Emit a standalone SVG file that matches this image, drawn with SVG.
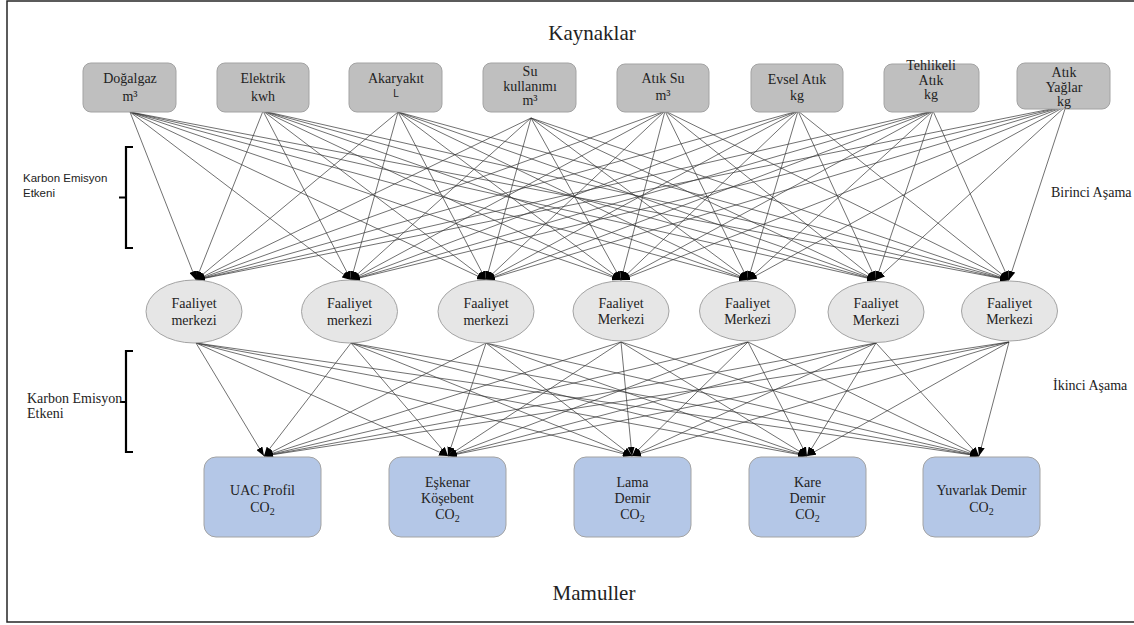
<svg xmlns="http://www.w3.org/2000/svg" width="1134" height="625" viewBox="0 0 1134 625">
<style>
.src{fill:#bfbfbf;stroke:#a3a3a3;stroke-width:1}
.act{fill:#e6e6e6;stroke:#a3a3a3;stroke-width:1}
.prd{fill:#b4c7e7;stroke:#a3a3a3;stroke-width:1}
.t{font-family:"Liberation Serif","Times New Roman",serif;font-size:14px;fill:#222;text-anchor:middle}
.ts{font-family:"Liberation Sans",Arial,sans-serif;fill:#222}
.big{font-family:"Liberation Serif","Times New Roman",serif;font-size:21px;fill:#222;text-anchor:middle}
.lab{font-family:"Liberation Serif","Times New Roman",serif;font-size:14px;fill:#222}
#edges line{stroke:#333;stroke-width:0.7;marker-end:url(#ah)}
.br{fill:none;stroke:#000;stroke-width:2.2}
</style>
<defs>
<marker id="ah" markerUnits="userSpaceOnUse" markerWidth="9" markerHeight="7" refX="9" refY="3.5" orient="auto">
<path d="M0,0 L9,3.5 L0,7 z" fill="#000"/>
</marker>
</defs>
<rect width="1134" height="625" fill="#fff"/>
<path d="M1140,1 H7 V622 H1140" fill="none" stroke="#262626" stroke-width="1.5"/>

<text class="big" x="592" y="40">Kaynaklar</text>
<text class="big" x="594" y="600">Mamuller</text>

<g id="edges">
<line x1="130" y1="112" x2="196" y2="280"/><line x1="130" y1="112" x2="351" y2="280"/><line x1="130" y1="112" x2="486" y2="280"/><line x1="130" y1="112" x2="621" y2="280"/><line x1="130" y1="112" x2="748" y2="280"/><line x1="130" y1="112" x2="876" y2="280"/><line x1="130" y1="112" x2="1009" y2="280"/>
<line x1="263" y1="111" x2="196" y2="280"/><line x1="263" y1="111" x2="351" y2="280"/><line x1="263" y1="111" x2="486" y2="280"/><line x1="263" y1="111" x2="621" y2="280"/><line x1="263" y1="111" x2="748" y2="280"/><line x1="263" y1="111" x2="876" y2="280"/><line x1="263" y1="111" x2="1009" y2="280"/>
<line x1="398" y1="112" x2="196" y2="280"/><line x1="398" y1="112" x2="351" y2="280"/><line x1="398" y1="112" x2="486" y2="280"/><line x1="398" y1="112" x2="621" y2="280"/><line x1="398" y1="112" x2="748" y2="280"/><line x1="398" y1="112" x2="876" y2="280"/><line x1="398" y1="112" x2="1009" y2="280"/>
<line x1="531" y1="118" x2="196" y2="280"/><line x1="531" y1="118" x2="351" y2="280"/><line x1="531" y1="118" x2="486" y2="280"/><line x1="531" y1="118" x2="621" y2="280"/><line x1="531" y1="118" x2="748" y2="280"/><line x1="531" y1="118" x2="876" y2="280"/><line x1="531" y1="118" x2="1009" y2="280"/>
<line x1="665" y1="111" x2="196" y2="280"/><line x1="665" y1="111" x2="351" y2="280"/><line x1="665" y1="111" x2="486" y2="280"/><line x1="665" y1="111" x2="621" y2="280"/><line x1="665" y1="111" x2="748" y2="280"/><line x1="665" y1="111" x2="876" y2="280"/><line x1="665" y1="111" x2="1009" y2="280"/>
<line x1="798" y1="111" x2="196" y2="280"/><line x1="798" y1="111" x2="351" y2="280"/><line x1="798" y1="111" x2="486" y2="280"/><line x1="798" y1="111" x2="621" y2="280"/><line x1="798" y1="111" x2="748" y2="280"/><line x1="798" y1="111" x2="876" y2="280"/><line x1="798" y1="111" x2="1009" y2="280"/>
<line x1="933" y1="111" x2="196" y2="280"/><line x1="933" y1="111" x2="351" y2="280"/><line x1="933" y1="111" x2="486" y2="280"/><line x1="933" y1="111" x2="621" y2="280"/><line x1="933" y1="111" x2="748" y2="280"/><line x1="933" y1="111" x2="876" y2="280"/><line x1="933" y1="111" x2="1009" y2="280"/>
<line x1="1066" y1="106" x2="196" y2="280"/><line x1="1066" y1="106" x2="351" y2="280"/><line x1="1066" y1="106" x2="486" y2="280"/><line x1="1066" y1="106" x2="621" y2="280"/><line x1="1066" y1="106" x2="748" y2="280"/><line x1="1066" y1="106" x2="876" y2="280"/><line x1="1066" y1="106" x2="1009" y2="280"/>

<line x1="196" y1="343" x2="264" y2="456"/><line x1="196" y1="343" x2="448" y2="456"/><line x1="196" y1="343" x2="632" y2="456"/><line x1="196" y1="343" x2="807" y2="456"/><line x1="196" y1="343" x2="979" y2="456"/>
<line x1="351" y1="343" x2="264" y2="456"/><line x1="351" y1="343" x2="448" y2="456"/><line x1="351" y1="343" x2="632" y2="456"/><line x1="351" y1="343" x2="807" y2="456"/><line x1="351" y1="343" x2="979" y2="456"/>
<line x1="486" y1="343" x2="264" y2="456"/><line x1="486" y1="343" x2="448" y2="456"/><line x1="486" y1="343" x2="632" y2="456"/><line x1="486" y1="343" x2="807" y2="456"/><line x1="486" y1="343" x2="979" y2="456"/>
<line x1="621" y1="342" x2="264" y2="456"/><line x1="621" y1="342" x2="448" y2="456"/><line x1="621" y1="342" x2="632" y2="456"/><line x1="621" y1="342" x2="807" y2="456"/><line x1="621" y1="342" x2="979" y2="456"/>
<line x1="748" y1="342" x2="264" y2="456"/><line x1="748" y1="342" x2="448" y2="456"/><line x1="748" y1="342" x2="632" y2="456"/><line x1="748" y1="342" x2="807" y2="456"/><line x1="748" y1="342" x2="979" y2="456"/>
<line x1="876" y1="343" x2="264" y2="456"/><line x1="876" y1="343" x2="448" y2="456"/><line x1="876" y1="343" x2="632" y2="456"/><line x1="876" y1="343" x2="807" y2="456"/><line x1="876" y1="343" x2="979" y2="456"/>
<line x1="1009" y1="342" x2="264" y2="456"/><line x1="1009" y1="342" x2="448" y2="456"/><line x1="1009" y1="342" x2="632" y2="456"/><line x1="1009" y1="342" x2="807" y2="456"/><line x1="1009" y1="342" x2="979" y2="456"/>
</g>

<g id="src-dogalgaz"><rect class="src" x="83" y="63" width="93" height="49" rx="8"/><text class="t" x="130" y="83">Doğalgaz</text><text class="t" x="130" y="101">m³</text></g>
<g id="src-elektrik"><rect class="src" x="217" y="63" width="92" height="49" rx="8"/><text class="t" x="263" y="83">Elektrik</text><text class="t" x="263" y="101">kwh</text></g>
<g id="src-akaryakit"><rect class="src" x="349" y="63" width="93" height="49" rx="8"/><text class="t" x="396" y="83">Akaryakıt</text><text class="ts" x="396" y="97" font-size="10" text-anchor="middle">L</text></g>
<g id="src-su"><rect class="src" x="483" y="63" width="93" height="49" rx="8"/><text class="t" x="530" y="76">Su</text><text class="t" x="530" y="91">kullanımı</text><text class="t" x="530" y="105">m³</text></g>
<g id="src-atiksu"><rect class="src" x="617" y="64" width="92" height="48" rx="8"/><text class="t" x="663" y="83">Atık Su</text><text class="t" x="663" y="100">m³</text></g>
<g id="src-evsel"><rect class="src" x="751" y="64" width="92" height="48" rx="8"/><text class="t" x="797" y="84">Evsel Atık</text><text class="t" x="797" y="100">kg</text></g>
<g id="src-tehlikeli"><rect class="src" x="884" y="64" width="95" height="48" rx="8"/><text class="t" x="931" y="70">Tehlikeli</text><text class="t" x="931" y="85">Atık</text><text class="t" x="931" y="99" font-size="11">kg</text></g>
<g id="src-yaglar"><rect class="src" x="1017" y="63" width="93" height="46" rx="8"/><text class="t" x="1064" y="77">Atık</text><text class="t" x="1064" y="92">Yağlar</text><text class="t" x="1064" y="106" font-size="11">kg</text></g>

<g id="act-1"><ellipse class="act" cx="194" cy="311.5" rx="48" ry="31.5"/><text class="t" x="194" y="308">Faaliyet</text><text class="t" x="194" y="325">merkezi</text></g>
<g id="act-2"><ellipse class="act" cx="349.5" cy="311.5" rx="48" ry="31.5"/><text class="t" x="349.5" y="308">Faaliyet</text><text class="t" x="349.5" y="325">merkezi</text></g>
<g id="act-3"><ellipse class="act" cx="486" cy="311.5" rx="48" ry="31.5"/><text class="t" x="486" y="308">Faaliyet</text><text class="t" x="486" y="325">merkezi</text></g>
<g id="act-4"><ellipse class="act" cx="621" cy="311" rx="48" ry="30"/><text class="t" x="621" y="308">Faaliyet</text><text class="t" x="621" y="324">Merkezi</text></g>
<g id="act-5"><ellipse class="act" cx="747.5" cy="311" rx="48" ry="30"/><text class="t" x="747.5" y="308">Faaliyet</text><text class="t" x="747.5" y="324">Merkezi</text></g>
<g id="act-6"><ellipse class="act" cx="876" cy="312" rx="48" ry="30.5"/><text class="t" x="876" y="308">Faaliyet</text><text class="t" x="876" y="325">Merkezi</text></g>
<g id="act-7"><ellipse class="act" cx="1009.5" cy="311" rx="48" ry="30"/><text class="t" x="1009.5" y="308">Faaliyet</text><text class="t" x="1009.5" y="324">Merkezi</text></g>

<g id="prd-uac"><rect class="prd" x="204" y="457" width="117" height="80" rx="12"/><text class="t" x="262.5" y="495">UAC Profil</text><text class="t" x="262.5" y="512">CO<tspan font-size="10" dy="3">2</tspan></text></g>
<g id="prd-eskenar"><rect class="prd" x="389" y="457" width="117" height="80" rx="12"/><text class="t" x="447.5" y="487">Eşkenar</text><text class="t" x="447.5" y="503">Köşebent</text><text class="t" x="447.5" y="519">CO<tspan font-size="10" dy="3">2</tspan></text></g>
<g id="prd-lama"><rect class="prd" x="574" y="457" width="117" height="80" rx="12"/><text class="t" x="632.5" y="487">Lama</text><text class="t" x="632.5" y="503">Demir</text><text class="t" x="632.5" y="519">CO<tspan font-size="10" dy="3">2</tspan></text></g>
<g id="prd-kare"><rect class="prd" x="749" y="457" width="117" height="80" rx="12"/><text class="t" x="807.5" y="487">Kare</text><text class="t" x="807.5" y="503">Demir</text><text class="t" x="807.5" y="519">CO<tspan font-size="10" dy="3">2</tspan></text></g>
<g id="prd-yuvarlak"><rect class="prd" x="923" y="457" width="117" height="80" rx="12"/><text class="t" x="981.5" y="495">Yuvarlak  Demir</text><text class="t" x="981.5" y="512">CO<tspan font-size="10" dy="3">2</tspan></text></g>

<g id="bracket-1"><path class="br" d="M133,147 H126 V248 H133 M126,197.5 H119"/><text class="ts" x="23" y="182" font-size="11.5">Karbon Emisyon</text><text class="ts" x="23" y="197" font-size="11.5">Etkeni</text></g>
<g id="bracket-2"><path class="br" d="M133,351 H126 V452 H133 M126,402 H120"/><text class="lab" x="27" y="403" font-size="12">Karbon Emisyon</text><text class="lab" x="27" y="418" font-size="12">Etkeni</text></g>

<text class="lab" x="1051" y="197">Birinci Aşama</text>
<text class="lab" x="1053" y="390">İkinci Aşama</text>
</svg>
